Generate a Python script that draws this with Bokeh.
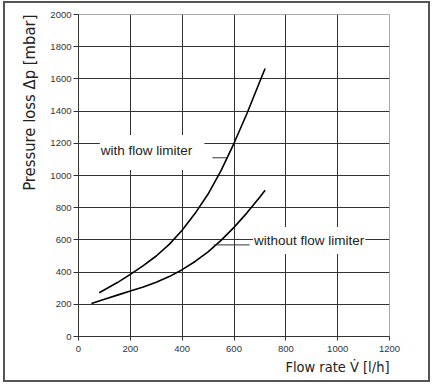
from bokeh.plotting import figure
from bokeh.models import Range1d, FixedTicker, Label, Title
from bokeh.embed import file_html
from bokeh.resources import INLINE

# --- data ---
flow_with = [80, 150, 200, 250, 300, 350, 400, 450, 500, 550, 600, 650, 700, 720]
dp_with = [272, 335, 386, 440, 500, 572, 660, 765, 885, 1030, 1200, 1385, 1585, 1665]

flow_without = [50, 100, 150, 200, 250, 300, 350, 400, 450, 500, 550, 600, 650, 700, 720]
dp_without = [205, 232, 257, 282, 308, 337, 372, 415, 466, 526, 597, 678, 768, 866, 908]

x_ticks = [0, 200, 400, 600, 800, 1000, 1200]
y_ticks = [0, 200, 400, 600, 800, 1000, 1200, 1400, 1600, 1800, 2000]
x_grid = [200, 400, 600, 800, 1000]
y_grid = [200, 400, 600, 800, 1000, 1200, 1400, 1600, 1800]

label_with = "with flow limiter"
label_without = "without flow limiter"
x_title = "Flow rate V\u0307 [l/h]"
y_title = "Pressure loss \u0394p [mbar]"

# leader lines from curve to label
leader_with_x = [517, 574]
leader_with_y = [1110, 1110]
leader_without_x = [522, 660]
leader_without_y = [569, 569]

FONT = "Liberation Sans"
NARROW = "DejaVu Sans Condensed"

W, H = 427, 381
p = figure(width=W, height=H, output_backend="svg", toolbar_location=None,
           x_range=Range1d(0, 1200), y_range=Range1d(0, 2000),
           min_border_left=73, min_border_right=43, min_border_top=11, min_border_bottom=48,
           background_fill_color="white", border_fill_color="white")

p.outline_line_color = "#a8a8a8"
p.outline_line_width = 1

for ax, ticks, tout in ((p.xaxis[0], x_ticks, 4), (p.yaxis[0], y_ticks, 5)):
    ax.ticker = FixedTicker(ticks=ticks)
    ax.minor_tick_line_color = None
    ax.major_tick_in = 0
    ax.major_tick_out = tout
    ax.axis_line_color = "#333333"
    ax.major_tick_line_color = "#333333"
    ax.major_label_text_font = FONT
    ax.major_label_text_font_size = "9.5px"
    ax.major_label_text_color = "#333333"
p.yaxis[0].major_label_standoff = 2
p.xaxis[0].major_label_standoff = 5

p.xgrid[0].ticker = FixedTicker(ticks=x_grid)
p.ygrid[0].ticker = FixedTicker(ticks=y_grid)
for g in (p.xgrid[0], p.ygrid[0]):
    g.grid_line_color = "#333333"
    g.grid_line_width = 1
    g.grid_line_alpha = 1.0

p.line(flow_with, dp_with, line_color="black", line_width=1.6)
p.line(flow_without, dp_without, line_color="black", line_width=1.6)

p.line(leader_with_x, leader_with_y, line_color="#333333", line_width=1)
p.line(leader_without_x, leader_without_y, line_color="#333333", line_width=1)

p.add_layout(Label(x=284, y=1143, text=label_with, text_align="center", text_baseline="middle",
                   text_font=FONT, text_font_size="13.5px", text_color="#222222",
                   background_fill_color="white", background_fill_alpha=1.0,
                   padding=(1, 12, 8, 12)))
p.add_layout(Label(x=890, y=597, text=label_without, text_align="center", text_baseline="middle",
                   text_font=FONT, text_font_size="13.5px", text_color="#222222",
                   background_fill_color="white", background_fill_alpha=1.0,
                   padding=(1, 6)))

p.add_layout(Title(text=x_title, align="right", text_font=NARROW, text_font_size="14.5px",
                   text_font_style="normal", text_color="#222222", standoff=4), "below")
p.add_layout(Title(text=y_title, align="right", text_font=NARROW, text_font_size="16.5px",
                   text_font_style="normal", text_color="#222222", standoff=18), "left")

p.styles = {"border": "2px solid #555555", "margin-left": "3px", "margin-top": "1px"}

open("out.html", "w").write(file_html(p, INLINE))
